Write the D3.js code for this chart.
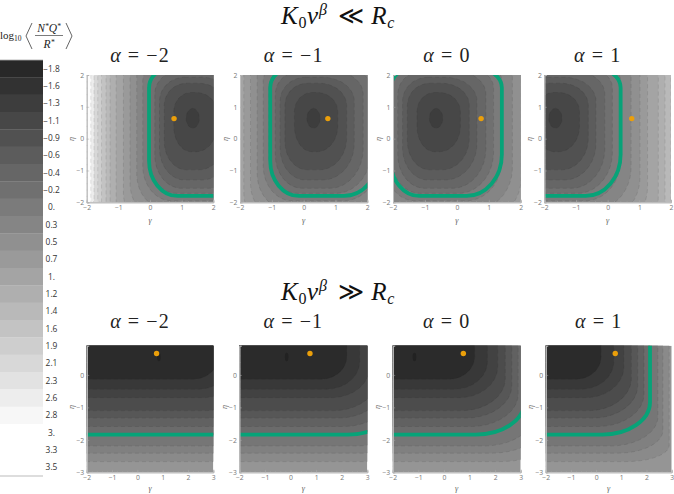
<!DOCTYPE html>
<html><head><meta charset="utf-8">
<style>html,body{margin:0;padding:0;background:#fff}svg{display:block}
.tick text{font-family:"Open Sans",sans-serif}</style>
<script src="https://cdn.jsdelivr.net/npm/d3@7"></script></head><body>
<svg id="c" width="674" height="494"></svg>
<script>
// ---------- data ----------
const legendLabels=["−1.8","−1.6","−1.3","−1.1","−0.9","−0.6","−0.4","−0.2","0.","0.3","0.5","0.7","1.","1.2","1.4","1.6","1.9","2.1","2.3","2.6","2.8","3.","3.3","3.5"];
const alphas=[-2,-1,0,1];
// upper row: closed level curves around the minimum; left/right are relative to the minimum's gamma
const upperCentre=[1.35,0.31,-0.65,-1.65];
const upperLeft =[-.21,-.6,-.9,-1.05,-1.2,-1.4,-1.58,-1.77,-1.98,-2.19,-2.42,-2.61,-2.74,-2.88,-3.0,-3.12,-3.22];
const upperRight=[.21,.76,1.04,1.28,1.56,1.8,2.06,2.39,2.67,2.91,3.25,3.46,3.65,3.85,4.0,4.2,4.4];
const upperBottom=[.33,-.41,-.98,-1.3,-1.56,-1.72,-1.95,-2.2,-2.5,-2.8,-3.1,-3.4,-3.7,-4,-4.3,-4.6,-4.9];
const upperTop=[.95,1.45,1.74,1.93,2.15,2.3,2.5,2.8,3.1,3.4,3.7,4,4.3,4.6,4.9,5.2,5.5];
const upperShade=[2,3,4,5,6,7,8,9,10,11,12,13,14,15,16,17,19];
const upperCurveLeft=[.21,.55,.7,.8,.85,.9,.9,.9,.9,.9,.9,.9,.9,.9,.9,.9,.9];
const upperCurveRight=[.21,.65,.85,1,1.05,1.1,1.1,1.1,1.1,1.1,1.1,1.1,1.1,1.1,1.1,1.1,1.1];
const upperCurveBL=[.31,.8,.9,1,1.05,1.1,1.1,1.1,1.1,1.1,1.1,1.1,1.1,1.1,1.1,1.1,1.1];
const upperCurveBR=[.31,.8,1,1.15,1.25,1.3,1.3,1.3,1.3,1.3,1.3,1.3,1.3,1.3,1.3,1.3,1.3];
const upperCurveTop=[.31,.6,.7,.75,.75,.7,.7,.7,.7,.7,.7,.7,.7,.7,.7,.7,.7];
const upperGreenLeft=[-1.38,-1.36,-1.42,-1.42];
const upperGreen={right:2.06,bottom:-1.8,top:2.3,cl:.9,cr:1.1,cbl:1.1,cbr:1.3,ct:.7};
// lower row: L-shaped level curves, knee position for alpha = 1 and shifted by one per alpha
const lowerKneeShift=[3,2,1,0];
const lowerLevel=[-.13,-.44,-.7,-1.1,-1.33,-1.59,-1.84,-2.19,-2.41,-2.67];
const lowerKnee=[.2,.7,1.1,1.4,1.65,1.9,2.14,2.45,2.65,2.9];
const lowerCurveX=[1,1.3,1.5,1.7,1.8,1.85,1.9,1.9,1.8,1.7];
const lowerCurveY=[.7,.85,.95,1,1,1,1,.9,.7,.5];
const lowerShade=[0.3,1.5,2.5,3.5,4.5,5.5,6.5,7.5,8.5,9.5];
const lowerGreen={level:-1.84,knee:2.14,cx:1.9,cy:1};
const lowerMinimum={gamma:-2.15,eta:.55,rg:.07,re:.13};
const oranges={upper:[.76,.63],lower:[.76,.66]};
// ---------- layout and style ----------
const svg=d3.select("#c");
const gray=d3.scaleLinear().domain([0,20]).range([0x28,0xf7]).clamp(true);
const shade=i=>{const g=Math.round(gray(i));return i>20?"#fff":`rgb(${g},${g},${g})`;};
const GREEN="#07a378",ORANGE="#eb9f0a";
const upperX=[[86.7,213.3],[240,367.3],[393,520.7],[544.3,671]];
const lowerX=[[86.7,213.3],[239.3,367.3],[392.7,520.7],[545.7,671.7]];
const K=0.5523;
function roundBox(x,y,l,r,b,t,rl,rr,rbl,rbr,rt){
  const p=d3.path();
  const c=(x1,y1,x2,y2,x3,y3)=>p.bezierCurveTo(x(x1),y(y1),x(x2),y(y2),x(x3),y(y3));
  p.moveTo(x(l+rl),y(t));
  p.lineTo(x(r-rr),y(t));
  c(r-rr+K*rr,t,r,t-rt+K*rt,r,t-rt);
  p.lineTo(x(r),y(b+rbr));
  c(r,b+rbr-K*rbr,r-rr+K*rr,b,r-rr,b);
  p.lineTo(x(l+rl),y(b));
  c(l+rl-K*rl,b,l,b+rbl-K*rbl,l,b+rbl);
  p.lineTo(x(l),y(t-rt));
  c(l,t-rt+K*rt,l+rl-K*rl,t,l+rl,t);
  p.closePath();
  return p.toString();
}
function knee(x,y,h,v,rx,ry,closed){
  const p=d3.path();
  p.moveTo(x(-20),y(h));
  p.lineTo(x(v-rx),y(h));
  p.bezierCurveTo(x(v-rx+K*rx),y(h),x(v),y(h+ry-K*ry),x(v),y(h+ry));
  p.lineTo(x(v),y(20));
  if(closed){p.lineTo(x(-20),y(20));p.closePath();}
  return p.toString();
}
function axes(g,x,y,xT,yT){
  const axisStyle=s=>{s.selectAll("path.domain").attr("stroke","#bdbdbd").attr("stroke-width",1);
    s.selectAll("line").attr("stroke","#aaa").attr("stroke-width",.5);
    s.selectAll("text").attr("fill","#777").attr("font-size",6.8);};
  const fmt=d=>d<0?"−"+(-d):""+d;
  const h=y.range()[0];
  const xMinor=d3.range(x.domain()[0],x.domain()[1]+.001,.2);
  const yMinor=d3.range(-3,y.domain()[1]+.001,.2).filter(v=>v>=y.domain()[0]);
  g.append("g").attr("transform",`translate(0,${h})`).call(d3.axisBottom(x).tickValues(xMinor).tickSize(-1).tickFormat("")).call(axisStyle);
  g.append("g").attr("transform",`translate(${x.range()[0]},0)`).call(d3.axisLeft(y).tickValues(yMinor).tickSize(-1).tickFormat("")).call(axisStyle);
  g.append("g").attr("transform",`translate(0,${h})`).call(d3.axisBottom(x).tickValues(xT).tickSize(-2.5).tickPadding(2.5).tickFormat(fmt)).call(axisStyle);
  g.append("g").attr("transform",`translate(${x.range()[0]},0)`).call(d3.axisLeft(y).tickValues(yT).tickSize(-2.5).tickPadding(2.5).tickFormat(fmt)).call(axisStyle);
}
function axisNames(g,x,yc,yb){
  g.append("text").attr("x",(x[0]+x[1])/2).attr("y",yb).attr("text-anchor","middle").attr("font-family","Liberation Serif").attr("font-style","italic").attr("font-size",8).attr("fill","#666").text("γ");
  g.append("text").attr("transform",`translate(${x[0]-12.5},${yc}) rotate(-90)`).attr("text-anchor","middle").attr("font-family","Liberation Serif").attr("font-style","italic").attr("font-size",8).attr("fill","#666").text("η");
}
function alphaTitle(cx,base,a){
  const t=svg.append("text").attr("x",cx).attr("y",base).attr("text-anchor","middle").attr("font-family","Liberation Serif").attr("font-size",20).attr("letter-spacing",1.1).attr("fill","#222");
  t.append("tspan").attr("font-style","italic").text("α");
  t.append("tspan").text(" = "+(a<0?"−"+(-a):a));
}
function panelTitle(cx,base,rel){
  const t=svg.append("text").attr("x",cx).attr("y",base).attr("text-anchor","middle").attr("font-family","Liberation Serif").attr("font-size",25).attr("letter-spacing",.7).attr("fill","#111");
  t.append("tspan").attr("font-style","italic").text("K");
  t.append("tspan").attr("font-size",16).attr("dy",4).text("0");
  t.append("tspan").attr("font-style","italic").attr("dy",-4).text("v");
  t.append("tspan").attr("font-style","italic").attr("font-size",16).attr("dy",-9).text("β");
  t.append("tspan").attr("dy",9).attr("dx",3).text(" "+rel+" ");
  t.append("tspan").attr("font-style","italic").text("R");
  t.append("tspan").attr("font-style","italic").attr("font-size",16).attr("dy",4).text("c");
}
const dash=s=>s.attr("stroke","#222").attr("stroke-opacity",.22).attr("stroke-width",.5).attr("stroke-dasharray","4 3");
// ---------- upper row ----------
const yU=[75,202.3];
alphas.forEach((a,i)=>{
  const x=d3.scaleLinear().domain([-2,2]).range(upperX[i]);
  const y=d3.scaleLinear().domain([-2,2]).range([yU[1],yU[0]]);
  const g=svg.append("g");
  const id="u"+i;
  g.append("clipPath").attr("id",id).append("rect").attr("x",upperX[i][0]).attr("y",yU[0]).attr("width",upperX[i][1]-upperX[i][0]).attr("height",yU[1]-yU[0]);
  const pl=g.append("g").attr("clip-path",`url(#${id})`);
  pl.append("rect").attr("x",upperX[i][0]).attr("y",yU[0]).attr("width",upperX[i][1]-upperX[i][0]).attr("height",yU[1]-yU[0]).attr("fill","#fcfcfc");
  const c=upperCentre[i];
  const idx=d3.range(upperLeft.length).reverse();
  pl.selectAll("path.lv").data(idx).join("path").attr("class","lv")
    .attr("d",k=>roundBox(x,y,c+upperLeft[k],c+upperRight[k],upperBottom[k],upperTop[k],upperCurveLeft[k],upperCurveRight[k],upperCurveBL[k],upperCurveBR[k],upperCurveTop[k]))
    .attr("fill",k=>shade(upperShade[k])).call(dash);
  const G=upperGreen;
  pl.append("path").attr("d",roundBox(x,y,c+upperGreenLeft[i],c+G.right,G.bottom,G.top,G.cl,G.cr,G.cbl,G.cbr,G.ct))
    .attr("fill","none").attr("stroke",GREEN).attr("stroke-width",3.8);
  pl.append("circle").attr("cx",x(oranges.upper[0])).attr("cy",y(oranges.upper[1])).attr("r",2.7).attr("fill",ORANGE);
  axes(g,x,y,[-2,-1,0,1,2],[-2,-1,0,1,2]);
  axisNames(g,upperX[i],139,223);
  alphaTitle((upperX[i][0]+upperX[i][1])/2-10,62,a);
});
// ---------- lower row ----------
const yL=[345.7,472.3];
alphas.forEach((a,i)=>{
  const x=d3.scaleLinear().domain([-2,3]).range(lowerX[i]);
  const y=d3.scaleLinear().domain([-3,.9]).range([yL[1],yL[0]]);
  const g=svg.append("g");
  const id="l"+i;
  g.append("clipPath").attr("id",id).append("rect").attr("x",lowerX[i][0]).attr("y",yL[0]).attr("width",lowerX[i][1]-lowerX[i][0]).attr("height",yL[1]-yL[0]);
  const pl=g.append("g").attr("clip-path",`url(#${id})`);
  pl.append("rect").attr("x",lowerX[i][0]).attr("y",yL[0]).attr("width",lowerX[i][1]-lowerX[i][0]).attr("height",yL[1]-yL[0]).attr("fill",shade(10.5));
  const s=lowerKneeShift[i];
  const idx=d3.range(lowerLevel.length).reverse();
  pl.selectAll("path.lv").data(idx).join("path").attr("class","lv")
    .attr("d",k=>knee(x,y,lowerLevel[k],lowerKnee[k]+s,lowerCurveX[k],lowerCurveY[k],true))
    .attr("fill",k=>shade(lowerShade[k])).call(dash);
  pl.append("ellipse").attr("cx",x(lowerMinimum.gamma+s)).attr("cy",y(lowerMinimum.eta))
    .attr("rx",x(lowerMinimum.gamma+s+lowerMinimum.rg)-x(lowerMinimum.gamma+s))
    .attr("ry",y(lowerMinimum.eta-lowerMinimum.re)-y(lowerMinimum.eta)).attr("fill","#222");
  pl.append("path").attr("d",knee(x,y,lowerGreen.level,lowerGreen.knee+s,lowerGreen.cx,lowerGreen.cy,false))
    .attr("fill","none").attr("stroke",GREEN).attr("stroke-width",3.8);
  pl.append("circle").attr("cx",x(oranges.lower[0])).attr("cy",y(oranges.lower[1])).attr("r",2.7).attr("fill",ORANGE);
  axes(g,x,y,[-2,-1,0,1,2,3],[-3,-2,-1,0]);
  axisNames(g,lowerX[i],407,491);
  alphaTitle((lowerX[i][0]+lowerX[i][1])/2-10,328,a);
});
panelTitle(338,24,"≪");
panelTitle(338,300,"≫");
// ---------- colour bar ----------
const bar=d3.scaleBand().domain(d3.range(legendLabels.length)).range([60,476]);
const lg=svg.append("g");
lg.selectAll("rect").data(d3.range(legendLabels.length)).join("rect")
  .attr("x",0).attr("y",d=>bar(d)).attr("width",43).attr("height",bar.bandwidth()+.3).attr("fill",d=>shade(d));
lg.selectAll("text").data(legendLabels).join("text")
  .attr("x",51.5).attr("y",(d,i)=>bar(i)+bar.bandwidth()/2+3).attr("text-anchor","middle")
  .attr("font-family","Open Sans").attr("font-size",8.4).attr("fill","#333").text(d=>d);
[60,476].forEach(v=>lg.append("line").attr("x1",0).attr("x2",43).attr("y1",v).attr("y2",v).attr("stroke","#aaa").attr("stroke-width",.8));
// colour bar title
const tt=svg.append("g").attr("font-family","Liberation Serif").attr("fill","#222");
const lgt=tt.append("text").attr("x",0).attr("y",39).attr("font-size",11);
lgt.append("tspan").text("log");
lgt.append("tspan").attr("font-size",7.5).attr("dy",2).text("10");
tt.append("path").attr("d","M32,23 L26,36 L32,49 M66,23 L72,36 L66,49").attr("fill","none").attr("stroke","#222").attr("stroke-width",.7);
const num=tt.append("text").attr("x",49).attr("y",32).attr("text-anchor","middle").attr("font-size",11.5).attr("font-style","italic");
num.append("tspan").text("N");num.append("tspan").attr("font-size",7.5).attr("dy",-3).text("*");
num.append("tspan").attr("dy",3).text("Q");num.append("tspan").attr("font-size",7.5).attr("dy",-3).text("*");
tt.append("line").attr("x1",35).attr("x2",63).attr("y1",35.5).attr("y2",35.5).attr("stroke","#222").attr("stroke-width",.6);
const den=tt.append("text").attr("x",49).attr("y",48).attr("text-anchor","middle").attr("font-size",11.5).attr("font-style","italic");
den.append("tspan").text("R");den.append("tspan").attr("font-size",7.5).attr("dy",-3).text("*");
</script></body></html>
